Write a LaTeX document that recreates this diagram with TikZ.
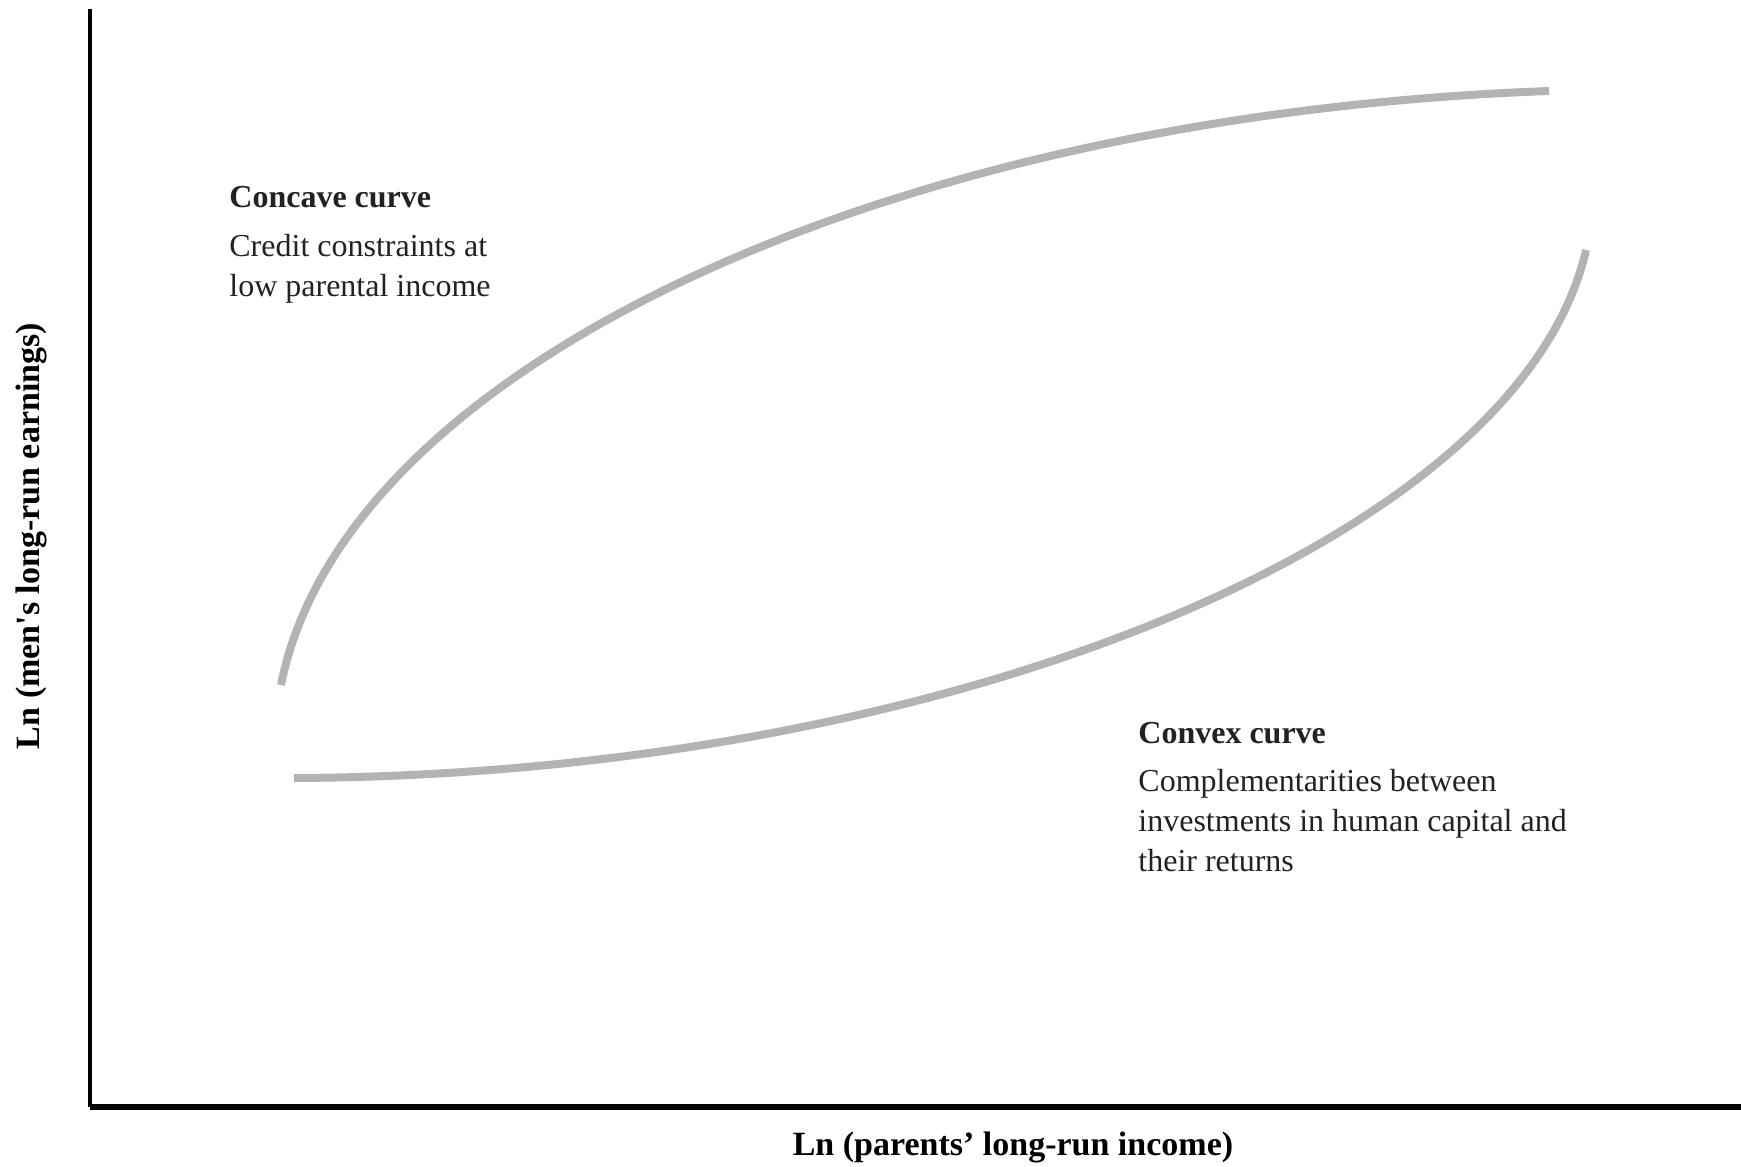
\documentclass[tikz,border=0pt]{standalone}
\usepackage{fontspec}
\setmainfont{Liberation Serif}
\usetikzlibrary{positioning}
\definecolor{curvegray}{HTML}{B3B3B3}
\definecolor{textgray}{HTML}{222222}
\tikzset{
  ax/.style={line width=2.4pt, black},
  crv/.style={draw=curvegray, line width=4pt},
  lab/.style={font=\fontsize{17}{20}\selectfont\bfseries, inner sep=0pt},
  hd/.style={font=\fontsize{16}{20}\selectfont\bfseries, text=textgray,
    inner sep=0pt, anchor=base west},
  txt/.style={font=\fontsize{16}{20}\selectfont, text=textgray,
    inner sep=0pt, align=left, anchor=north west},
}

\begin{document}
\begin{tikzpicture}[x=0.5pt, y=-0.5pt]
\useasboundingbox (0,0) rectangle (1741,1167);

% ═══════════════════════════════════════════════════════════════
% AXES
% ═══════════════════════════════════════════════════════════════
\coordinate (orig) at (90,1107);
\coordinate (ytop) at (90,9);
\coordinate (xend) at (1741,1107);
\draw[ax] (ytop) -- (orig);
\draw[ax, line width=2.8pt] (orig) -- (xend);

\node[lab] (xlab) at (1013,1147) {Ln (parents’ long-run income)};
\node[lab, rotate=90] (ylab) at (31,536)
  {Ln (men\textquotesingle s long-run earnings)};

% ═══════════════════════════════════════════════════════════════
% CURVES
% ═══════════════════════════════════════════════════════════════
\draw[crv] (281,685) .. controls (344,366) and (888,115) .. (1549,91);
\draw[crv] (294,778) .. controls (944,775) and (1520,540) .. (1586,250);

% ═══════════════════════════════════════════════════════════════
% LABELS
% ═══════════════════════════════════════════════════════════════
\node[hd] (cchead) at (229,207.5) {Concave curve};
\node[txt] (cctext) at (229,233.5)
  {Credit constraints at\\low parental income};

\node[hd] (cvhead) at (1138,743) {Convex curve};
\node[txt] (cvtext) at (1138,769)
  {Complementarities between\\investments in human capital and\\their returns};

\end{tikzpicture}
\end{document}
